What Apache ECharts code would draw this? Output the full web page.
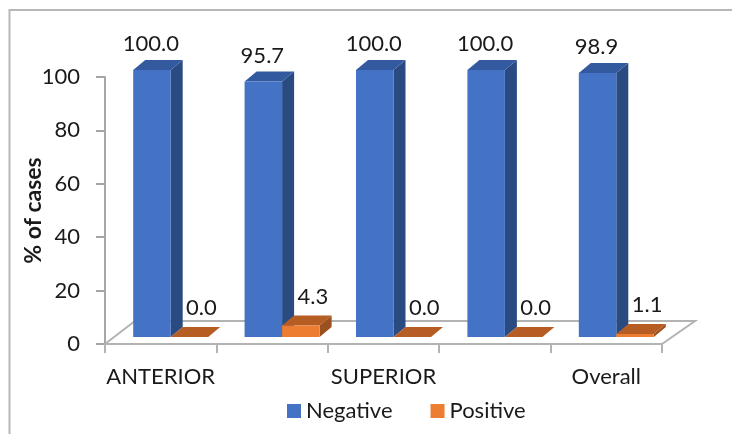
<!DOCTYPE html>
<html>
<head>
<meta charset="utf-8">
<style>html,body{margin:0;padding:0;background:#fff}#chart{width:732px;height:434px}</style>
<script src="https://cdn.jsdelivr.net/npm/echarts@6/dist/echarts.min.js"></script>
</head>
<body>
<div id="chart"></div>
<script>
// Percentage of cases per site, split into negative and positive
var categories = ['ANTERIOR', '', 'SUPERIOR', '', 'Overall'];
var negative = [100.0, 95.7, 100.0, 100.0, 98.9];
var positive = [0.0, 4.3, 0.0, 0.0, 1.1];
var yTicks = [0, 20, 40, 60, 80, 100];

var FONT = 'Lato, "Open Sans", sans-serif';
var DEPTH_X = 12, DEPTH_Y = 10;      // extrusion of each column
var BAR_W = 37.5;                    // front face width
var LIFT = 7;                        // columns stand this far above the front floor edge
var SHIFT = 10;                      // offset of the column pair from the band centre

// One extruded column: index 0 sits left of the pair's seam, index 1 right of it
function columnItem(side, colors, labelDx, labelGap) {
  return function (params, api) {
    var c = api.coord([api.value(0), api.value(1)]);
    var b = api.coord([api.value(0), 0]);
    var x0 = c[0] + SHIFT + (side === 0 ? -BAR_W : 0);
    var x1 = x0 + BAR_W;
    var top = c[1] - LIFT, bot = b[1] - LIFT;
    var backTop = top - DEPTH_Y;
    return {
      type: 'group',
      children: [
        { type: 'polygon', shape: { points: [[x1, top], [x1 + DEPTH_X, backTop], [x1 + DEPTH_X, bot - DEPTH_Y], [x1, bot]] }, style: { fill: colors[2] } },
        { type: 'polygon', shape: { points: [[x0, top], [x0 + DEPTH_X, backTop], [x1 + DEPTH_X, backTop], [x1, top]] }, style: { fill: colors[1] } },
        { type: 'rect', shape: { x: x0, y: top, width: BAR_W, height: bot - top }, style: { fill: colors[0] } },
        { type: 'text', x: (x0 + x1) / 2 + labelDx, y: backTop - labelGap,
          style: { text: api.value(1).toFixed(1), font: '22px ' + FONT, fill: '#1a1a1a', align: 'center', verticalAlign: 'middle' } }
      ]
    };
  };
}

// Floor outline behind the columns
function floorItem(params, api) {
  var left = api.coord([0, 0]), cs = params.coordSys;
  var xl = cs.x, xr = cs.x + cs.width, y = left[1];
  var dx = 30, dy = 23;
  var line = { stroke: '#b3b3b3', lineWidth: 2, fill: null };
  return {
    type: 'group',
    children: [
      { type: 'polyline', shape: { points: [[xl, y], [xl + dx, y - dy], [xr + 33, y - dy], [xr, y]] }, style: line }
    ]
  };
}

var chart = echarts.init(document.getElementById('chart'));
chart.setOption({
  animation: false,
  backgroundColor: '#fff',
  graphic: [{
    type: 'polyline', silent: true,
    shape: { points: [[9.5, 434], [9.5, 10], [732, 10]] },
    style: { stroke: '#b8b8b8', lineWidth: 2, fill: null }
  }],
  grid: { left: 105, right: 70, top: 77, bottom: 90, containLabel: false },
  legend: {
    data: ['Negative', 'Positive'],
    left: 287, top: 400, padding: 0, icon: 'rect', itemWidth: 14, itemHeight: 14, itemGap: 38,
    textStyle: { fontFamily: FONT, fontSize: 22, color: '#1a1a1a' }
  },
  xAxis: {
    type: 'category', data: categories,
    axisLine: { lineStyle: { color: '#b3b3b3', width: 2 } },
    axisTick: { show: true, alignWithLabel: false, length: 9, lineStyle: { color: '#b3b3b3', width: 2 } },
    axisLabel: { interval: 0, fontFamily: FONT, fontSize: 22, color: '#1a1a1a', margin: 22 }
  },
  yAxis: {
    type: 'value', min: 0, max: 100, interval: 20,
    name: '% of cases', nameLocation: 'middle', nameGap: 60, nameRotate: 90, nameMoveOverlap: false,
    nameTextStyle: { fontFamily: FONT, fontSize: 23, fontWeight: 'bold', color: '#1a1a1a' },
    splitLine: { show: false },
    axisLine: { show: true, lineStyle: { color: '#a6a6a6', width: 2 } },
    axisTick: { show: true, length: 9, lineStyle: { color: '#a6a6a6', width: 2 } },
    axisLabel: { fontFamily: FONT, fontSize: 22, color: '#1a1a1a', margin: 25,
      formatter: function (v) { return yTicks.indexOf(v) >= 0 ? String(v) : ''; } }
  },
  series: [
    { type: 'custom', name: 'floor', silent: true, z: 1, renderItem: floorItem, data: [[0, 0]], encode: { x: 0, y: 1 } },
    { type: 'custom', name: 'Negative', z: 2, itemStyle: { color: '#4472c4' },
      renderItem: columnItem(0, ['#4472c4', '#335a9f', '#2a4a82'], -1, 16),
      data: negative.map(function (v, i) { return [i, v]; }), encode: { x: 0, y: 1 } },
    { type: 'custom', name: 'Positive', z: 3, itemStyle: { color: '#ed7d31' },
      renderItem: columnItem(1, ['#ed7d31', '#b55d22', '#9c5020'], 12, 19),
      data: positive.map(function (v, i) { return [i, v]; }), encode: { x: 0, y: 1 } }
  ]
});
</script>
</body>
</html>
